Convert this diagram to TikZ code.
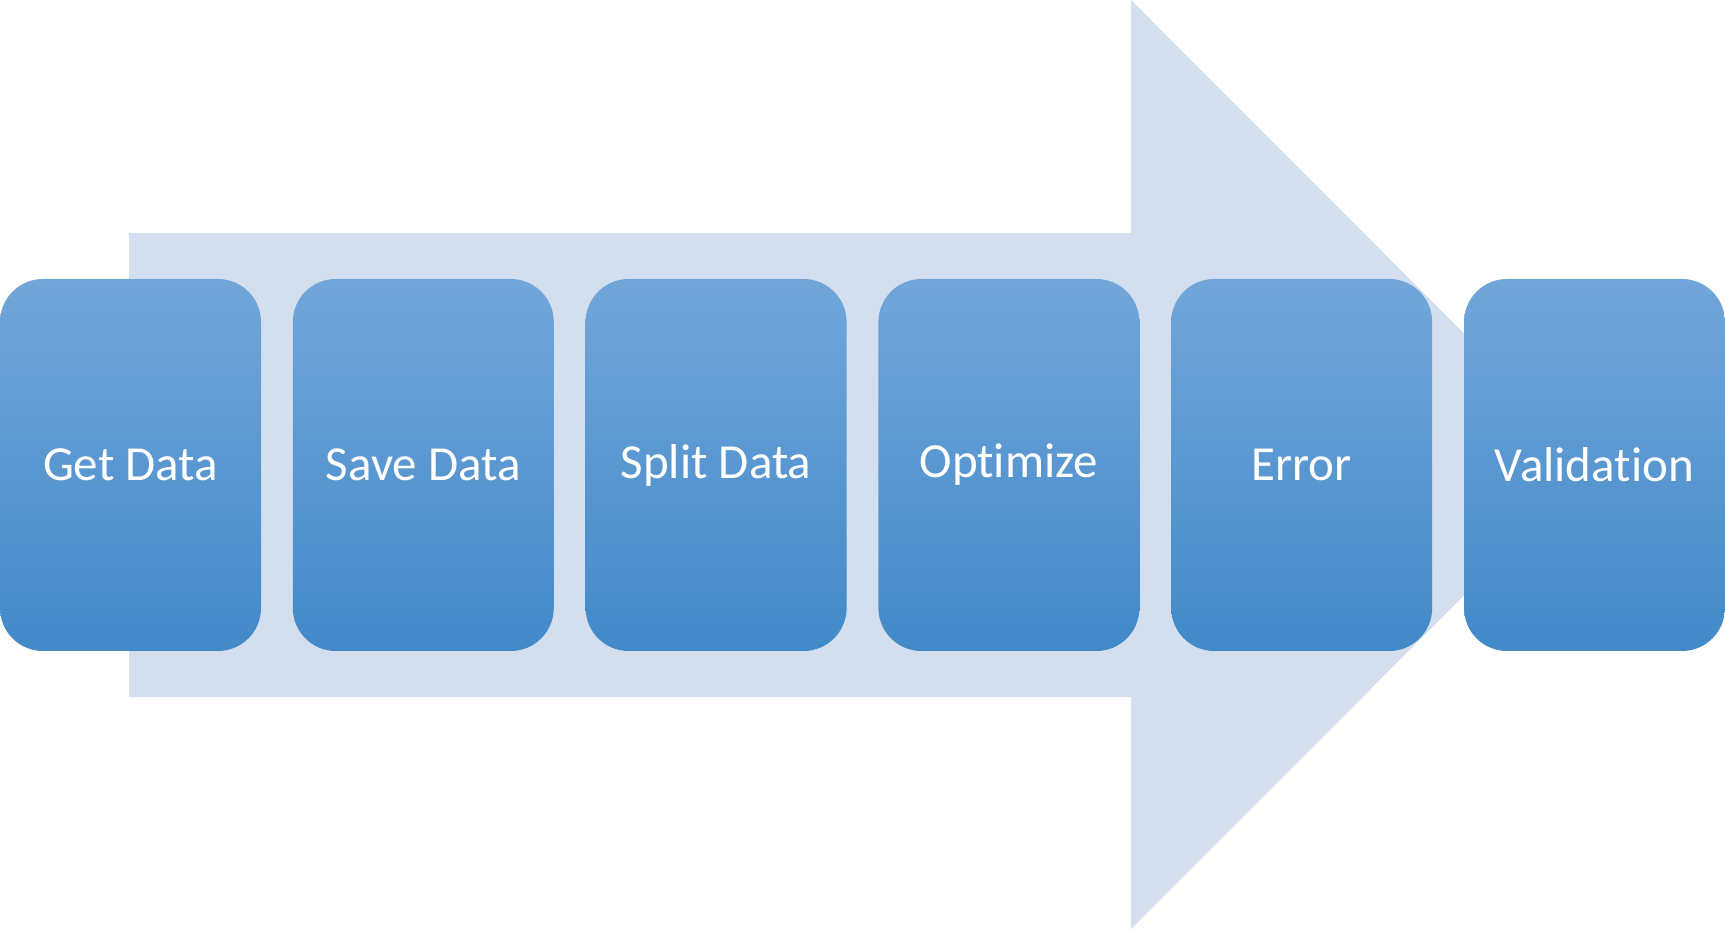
\documentclass[tikz,border=0pt]{standalone}
\usepackage{fontspec}
\setmainfont[Ligatures={NoCommon}]{Carlito}
\usepackage{tikz}
\definecolor{arrowfill}{RGB}{211,223,238}
\definecolor{boxtop}{RGB}{114,166,218}
\definecolor{boxmid}{RGB}{91,155,213}
\definecolor{boxbot}{RGB}{66,137,200}
\begin{document}
\begin{tikzpicture}[x=1pt, y=1pt, node distance=292.8pt,
  phase/.style={rectangle, rounded corners=43pt, inner sep=0pt,
    minimum width=261pt, minimum height=372pt,
    top color=boxtop, middle color=boxmid, bottom color=boxbot,
    text=white, font=\fontsize{49}{59}\selectfont}]
\useasboundingbox (0,0) rectangle (1725,929);
% big background arrow
\fill[arrowfill] (129,232) -- (1131,232) -- (1131,0) -- (1595,464.5)
  -- (1131,929) -- (1131,696) -- (129,696) -- cycle;
% steps
\node  (1)[phase] at (130.5,464) {Get Data};
\node  (2)[phase] [right of = 1] {Save Data};
\node  (3)[phase] [right of = 2] {Split Data};
\node  (4)[phase] [right of = 3] {Optimize};
\node  (5)[phase] [right of = 4] {Error};
\node  (6)[phase] [right of = 5] {Validation};
\end{tikzpicture}
\end{document}
